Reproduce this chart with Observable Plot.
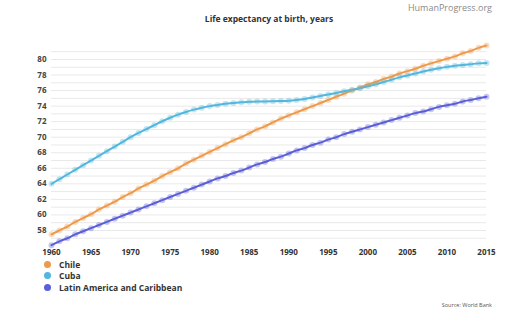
<!DOCTYPE html>
<html>
<head>
<meta charset="utf-8">
<script src="https://cdn.jsdelivr.net/npm/d3@7"></script>
<script src="https://cdn.jsdelivr.net/npm/@observablehq/plot@0.6"></script>
<style>
  html, body { margin: 0; padding: 0; background: #fff; }
  #wrap { position: relative; width: 510px; height: 321px; overflow: hidden; font-family: "Open Sans", sans-serif; }
  #chart { position: absolute; left: 0; top: 0; }
  .brand { position: absolute; right: 18px; top: 1px; font-size: 9px; color: #8a8a8a; }
  .title { position: absolute; left: 0; width: 538px; top: 13px; text-align: center; font-size: 8.5px; font-weight: 700; color: #333; }
  .legend { position: absolute; left: 44px; top: 259px; font-size: 8.5px; font-weight: 700; color: #333; }
  .legend div { height: 11.3px; line-height: 11.3px; display: flex; align-items: center; }
  .legend span.dot { display: inline-block; width: 7px; height: 7px; border-radius: 50%; margin-right: 8px; }
  .source { position: absolute; right: 18px; top: 301px; font-size: 5.5px; color: #555; }
</style>
</head>
<body>
<div id="wrap">
  <div id="chart"></div>
  <div class="brand">HumanProgress.org</div>
  <div class="title">Life expectancy at birth, years</div>
  <div class="legend" id="legend"></div>
  <div class="source">Source: World Bank</div>
</div>
<script>
const years = d3.range(1960, 2016);
const seriesNames = ["Chile", "Cuba", "Latin America and Caribbean"];
const seriesColors = ["#ED9A4C", "#52B6DE", "#5B5ED6"];

const chile = [57.5, 58.0, 58.5, 59.1, 59.6, 60.1, 60.7, 61.2, 61.7, 62.3,
  62.8, 63.4, 63.9, 64.4, 65.0, 65.5, 66.0, 66.6, 67.1, 67.6,
  68.1, 68.6, 69.1, 69.6, 70.0, 70.5, 71.0, 71.4, 71.9, 72.4,
  72.8, 73.2, 73.6, 74.0, 74.4, 74.8, 75.2, 75.6, 76.0, 76.4,
  76.8, 77.1, 77.5, 77.8, 78.2, 78.5, 78.8, 79.2, 79.5, 79.8,
  80.1, 80.4, 80.8, 81.1, 81.5, 81.8];

const cuba = [64.0, 64.6, 65.2, 65.8, 66.4, 67.0, 67.6, 68.2, 68.8, 69.4,
  70.0, 70.55, 71.05, 71.55, 72.05, 72.5, 72.9, 73.25, 73.55, 73.8,
  74.0, 74.15, 74.3, 74.4, 74.5, 74.55, 74.6, 74.6, 74.62, 74.65,
  74.7, 74.8, 74.93, 75.1, 75.3, 75.5, 75.7, 75.9, 76.1, 76.3,
  76.55, 76.8, 77.1, 77.4, 77.7, 77.95, 78.2, 78.45, 78.68, 78.88,
  79.05, 79.2, 79.3, 79.4, 79.5, 79.55];

const latam = [56.1, 56.6, 57.0, 57.5, 57.9, 58.3, 58.7, 59.1, 59.5, 59.9,
  60.3, 60.7, 61.1, 61.5, 61.9, 62.3, 62.7, 63.1, 63.5, 63.9,
  64.3, 64.7, 65.0, 65.4, 65.7, 66.1, 66.5, 66.8, 67.2, 67.5,
  67.9, 68.3, 68.6, 69.0, 69.3, 69.7, 70.0, 70.4, 70.7, 71.0,
  71.3, 71.6, 71.9, 72.2, 72.5, 72.8, 73.1, 73.3, 73.6, 73.9,
  74.1, 74.3, 74.6, 74.8, 75.0, 75.2];

const xTicks = [1960, 1965, 1970, 1975, 1980, 1985, 1990, 1995, 2000, 2005, 2010, 2015];
const yTicks = [58, 60, 62, 64, 66, 68, 70, 72, 74, 76, 78, 80];
const yGrid = d3.range(57, 82);

const values = [chile, cuba, latam];
const data = [];
seriesNames.forEach((name, i) => {
  years.forEach((y, j) => data.push({series: name, year: y, value: values[i][j]}));
});

const plot = Plot.plot({
  width: 510,
  height: 262,
  marginLeft: 51,
  marginRight: 24,
  marginTop: 45,
  marginBottom: 16.5,
  style: {fontFamily: "Open Sans, sans-serif", fontSize: "8px", fontWeight: 700, color: "#444", background: "transparent"},
  x: {domain: [1960, 2015], ticks: xTicks, tickFormat: d => String(d), tickSize: 0, tickPadding: 2, label: null},
  y: {domain: [56, 81.8], ticks: yTicks, tickSize: 0, tickPadding: 5, label: null},
  color: {domain: seriesNames, range: seriesColors},
  marks: [
    Plot.ruleY(yGrid, {stroke: "#e9e9e9", strokeWidth: 1}),
    Plot.axisX({ticks: xTicks, tickFormat: d => String(d), tickSize: 0, tickPadding: 3, fill: "#333", fontWeight: 700}),
    Plot.axisY({ticks: yTicks, tickSize: 0, tickPadding: 5, fill: "#444", fontWeight: 700}),
    Plot.line(data, {x: "year", y: "value", z: "series", stroke: "series", strokeWidth: 2, curve: "monotone-x"}),
    Plot.dot(data, {x: "year", y: "value", fill: "series", r: 3, fillOpacity: 0.35, stroke: "none"})
  ]
});
document.getElementById("chart").appendChild(plot);

const legend = document.getElementById("legend");
seriesNames.forEach((name, i) => {
  const row = document.createElement("div");
  const dot = document.createElement("span");
  dot.className = "dot";
  dot.style.background = seriesColors[i];
  row.appendChild(dot);
  row.appendChild(document.createTextNode(name));
  legend.appendChild(row);
});
</script>
</body>
</html>
